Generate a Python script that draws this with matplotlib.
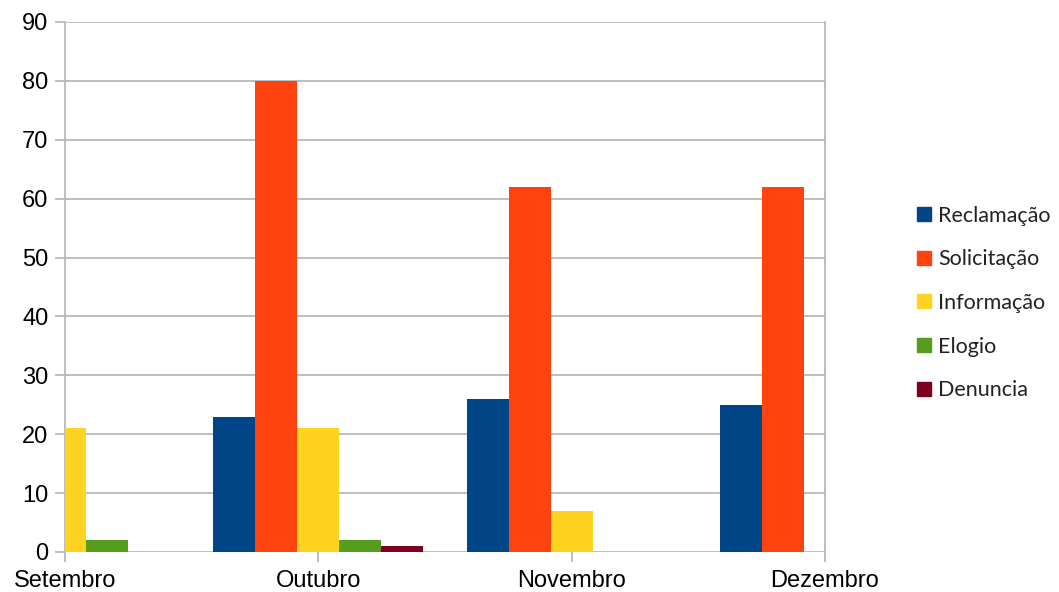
import numpy as np
import matplotlib.pyplot as plt
from matplotlib.lines import Line2D

meses = ["Setembro", "Outubro", "Novembro", "Dezembro"]
series = ["Reclamação", "Solicitação", "Informação", "Elogio", "Denuncia"]
reclamacao = [0, 23, 26, 25]
solicitacao = [0, 80, 62, 62]
informacao = [21, 21, 7, 0]
elogio = [2, 2, 0, 0]
denuncia = [0, 1, 0, 0]
cores = ["#004586", "#ff420e", "#ffd320", "#579d1c", "#7e0021"]

valores = [reclamacao, solicitacao, informacao, elogio, denuncia]

fig = plt.figure(figsize=(10.59, 5.92), dpi=100)
ax = fig.add_axes([65 / 1059, 40 / 592, 760 / 1059, 530 / 592])

x = np.arange(len(meses))
largura = 0.166
for i, (nome, vals, cor) in enumerate(zip(series, valores, cores)):
    desloc = (i - 2) * largura
    ax.bar(x + desloc, vals, largura, color=cor, label=nome, linewidth=0, zorder=3)

ax.set_xlim(0, 3)
ax.set_ylim(0, 90)
ax.set_yticks(range(0, 91, 10))
ax.set_xticks(x)
ax.set_xticklabels(meses)

cinza = "#b3b3b3"
ax.yaxis.grid(True, color=cinza, linewidth=1.2, zorder=0)
for lado in ["left", "right"]:
    ax.spines[lado].set_color(cinza)
    ax.spines[lado].set_linewidth(1.2)
ax.spines["top"].set_visible(False)
ax.spines["bottom"].set_visible(False)
ax.tick_params(axis="both", colors=cinza, length=7, width=1.2, labelcolor="black",
               labelsize=17, labelfontfamily="Liberation Sans")
ax.tick_params(axis="y", pad=5)
ax.tick_params(axis="x", pad=6)

handles = [Line2D([], [], marker="s", linestyle="", markersize=10,
                  markerfacecolor=c, markeredgecolor=c) for c in cores]
fig.legend(handles, series, loc="center left", bbox_to_anchor=(907 / 1059, 1 - 303 / 592),
           frameon=False, prop={"family": "Lato", "size": 15.5}, handlelength=0.8,
           handletextpad=0.25, labelspacing=1.1, borderaxespad=0, labelcolor="#222222")

fig.savefig("out.png", dpi=100)
